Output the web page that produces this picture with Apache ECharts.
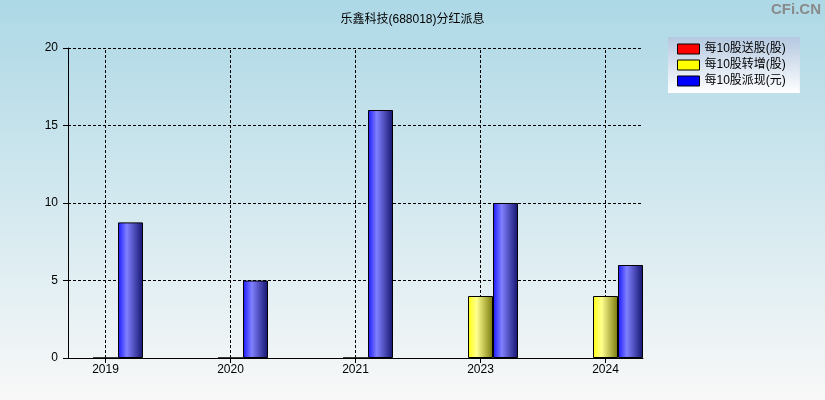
<!DOCTYPE html>
<html>
<head>
<meta charset="utf-8">
<script src="https://cdn.jsdelivr.net/npm/echarts@6/dist/echarts.min.js"></script>
<style>html,body{margin:0;padding:0;}#c{width:825px;height:400px;}</style>
</head>
<body>
<div id="c"></div>
<script>
const title = '乐鑫科技(688018)分红派息';
const years = ['2019', '2020', '2021', '2023', '2024'];
const seriesNames = ['每10股送股(股)', '每10股转增(股)', '每10股派现(元)'];
const songgu = [0, 0, 0, 0, 0];
const zhuanzeng = [0, 0, 0, 4, 4];
const paixian = [8.75, 5, 16, 10, 6];
const yTicks = [0, 5, 10, 15, 20];

const FONT = '"Liberation Sans", "Noto Sans CJK SC", sans-serif';
const idx = years.map((_, i) => i);
const toPairs = arr => arr.map((v, i) => [i, v]);
function grad(c0, c1, c2) {
  return new echarts.graphic.LinearGradient(0, 0, 1, 0, [
    { offset: 0, color: c0 }, { offset: 0.35, color: c1 }, { offset: 1, color: c2 }
  ]);
}
const chart = echarts.init(document.getElementById('c'));
chart.setOption({
  animation: false,
  backgroundColor: new echarts.graphic.LinearGradient(0, 0, 0, 1, [
    { offset: 0, color: '#add8e6' }, { offset: 1, color: '#f8f8f8' }
  ]),
  textStyle: { fontFamily: FONT },
  title: {
    text: title, left: 'center', top: 9,
    textStyle: { fontSize: 12, fontWeight: 'normal', color: '#000', fontFamily: FONT }
  },
  graphic: [{
    type: 'text', right: 4, top: 2,
    style: { text: 'CFi.CN', fill: '#8a8a8a', font: 'bold 15px ' + FONT }
  }],
  legend: {
    orient: 'vertical', left: 668, top: 37,
    padding: [5, 14, 5, 9], itemGap: 2,
    itemWidth: 22, itemHeight: 10,
    backgroundColor: new echarts.graphic.LinearGradient(0, 0, 0, 1, [
      { offset: 0, color: '#b4c8e0' }, { offset: 1, color: '#ffffff' }
    ]),
    textStyle: { fontSize: 12, color: '#000', lineHeight: 14, fontFamily: FONT },
    data: [
      { name: seriesNames[0], icon: 'rect', itemStyle: { color: '#ff0000', borderColor: '#000', borderWidth: 1 } },
      { name: seriesNames[1], icon: 'rect', itemStyle: { color: '#ffff00', borderColor: '#000', borderWidth: 1 } },
      { name: seriesNames[2], icon: 'rect', itemStyle: { color: '#0000ff', borderColor: '#000', borderWidth: 1 } }
    ]
  },
  grid: { left: 68, right: 182, top: 48, bottom: 42 },
  xAxis: {
    type: 'value', min: -0.3, max: 4.3,
    axisLine: { onZero: false, lineStyle: { color: '#000', width: 1 } },
    axisTick: { show: true, length: 5, customValues: idx, lineStyle: { color: '#000' } },
    axisLabel: {
      customValues: idx, color: '#000', fontSize: 12, margin: 6,
      formatter: v => years[Math.round(v)] || ''
    },
    splitLine: { show: false }
  },
  yAxis: {
    type: 'value', min: yTicks[0], max: yTicks[yTicks.length - 1], interval: 5,
    axisLine: { show: true, onZero: false, lineStyle: { color: '#000', width: 1 } },
    axisTick: { show: true, length: 5, lineStyle: { color: '#000' } },
    axisLabel: { color: '#000', fontSize: 12, margin: 10 },
    splitLine: { show: true, lineStyle: { color: '#000', type: [3, 2], width: 1 } }
  },
  series: [
    {
      name: seriesNames[0], type: 'bar', data: toPairs(songgu), barWidth: 25, barGap: '0%',
      itemStyle: { color: grad('#ff0000', '#ff9090', '#800000'), borderColor: '#000', borderWidth: 0 }
    },
    {
      name: seriesNames[1], type: 'bar', data: toPairs(zhuanzeng), barWidth: 25, barGap: '0%',
      itemStyle: { color: grad('#ffff10', '#ffff90', '#78780a'), borderColor: '#000', borderWidth: 1 },
      markLine: {
        silent: true, symbol: 'none', z: 0,
        label: { show: false },
        lineStyle: { color: '#000', type: [3, 2], width: 1 },
        data: idx.map(i => ({ xAxis: i }))
      }
    },
    {
      name: seriesNames[2], type: 'bar', data: toPairs(paixian), barWidth: 25, barGap: '0%',
      itemStyle: { color: grad('#1818ff', '#8080ff', '#14146e'), borderColor: '#000', borderWidth: 1 }
    }
  ]
});
</script>
</body>
</html>
